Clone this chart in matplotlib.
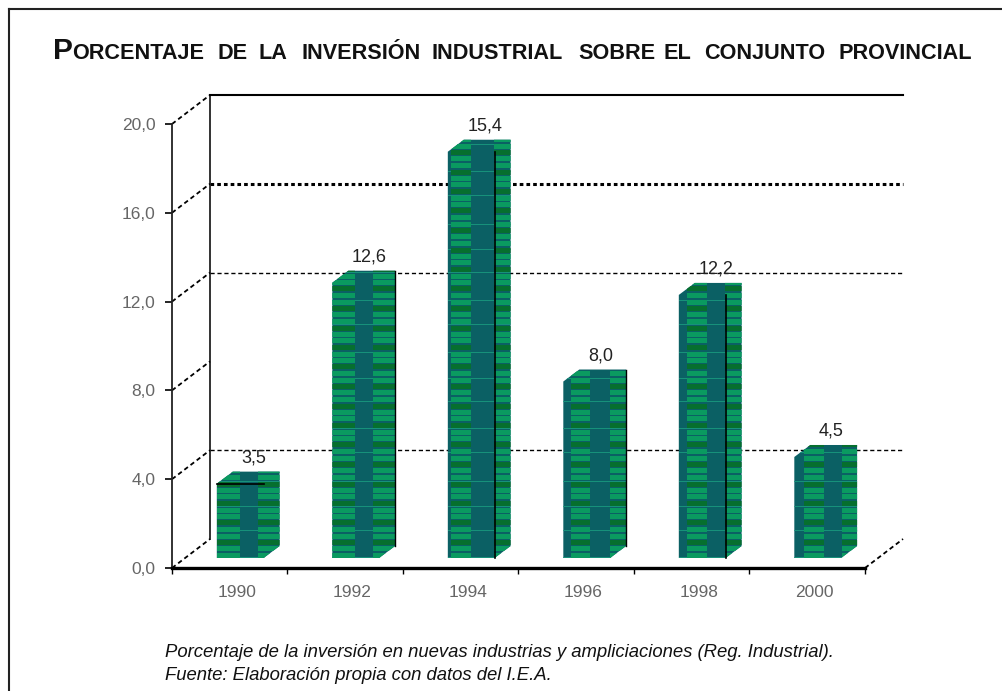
import numpy as np
import matplotlib
matplotlib.use("Agg")
import matplotlib.pyplot as plt
from matplotlib.patches import Polygon, Rectangle
from matplotlib.transforms import Affine2D

W, H = 1003, 691

# bar heights read against the axis, labels as printed above the bars
years = ["1990", "1992", "1994", "1996", "1998", "2000"]
values = [3.35, 12.4, 18.3, 7.95, 11.85, 4.55]
bar_labels = ["3,5", "12,6", "15,4", "8,0", "12,2", "4,5"]
y_ticks = [0, 4, 8, 12, 16, 20]
y_labels = ["0,0", "4,0", "8,0", "12,0", "16,0", "20,0"]

TITLE_WORDS = ["DE", "LA", "INVERSIÓN", "INDUSTRIAL", "SOBRE", "EL", "CONJUNTO", "PROVINCIAL"]
TITLE_X = [218, 258, 302, 432, 578, 664, 704, 839]
NOTE_1 = "Porcentaje de la inversión en nuevas industrias y ampliciaciones (Reg. Industrial)."
NOTE_2 = "Fuente: Elaboración propia con datos del I.E.A."

TEAL = "#0b6064"
GREEN = "#0a9a60"
DARK = "#066f2e"
LINE = "#17917a"

plt.rcParams["font.family"] = ["Liberation Sans", "DejaVu Sans"]

fig = plt.figure(figsize=(W / 100, H / 100), dpi=100)


def px(x, y):
    return x / W, 1 - y / H


# page frame, open at right and bottom
fig.add_artist(plt.Line2D([9 / W, 9 / W], [0, 1 - 9 / H], color="#222222", lw=1.5))
fig.add_artist(plt.Line2D([9 / W, 1], [1 - 9 / H, 1 - 9 / H], color="#222222", lw=1.5))

# title
fig.text(*px(53, 59), "P", fontsize=21.5, fontweight="bold", color="#111111")
fig.text(*px(72, 59), "ORCENTAJE", fontsize=15.6, fontweight="bold", color="#111111")
for word, x in zip(TITLE_WORDS, TITLE_X):
    fig.text(*px(x, 59), word, fontsize=15.6, fontweight="bold", color="#111111")

ax = fig.add_axes([172 / W, 1 - 568 / H, 693 / W, 444 / H])
ax.set_xlim(0, 6)
ax.set_ylim(0, 20)
ax.patch.set_alpha(0)
for side in ["top", "right"]:
    ax.spines[side].set_visible(False)
ax.spines["left"].set_linewidth(1.3)
ax.spines["left"].set_color("#222222")
ax.spines["bottom"].set_linewidth(2.4)
ax.spines["bottom"].set_color("black")

ax.set_yticks(y_ticks, y_labels)
ax.tick_params(axis="y", length=5, width=1.2, pad=7, labelsize=12.5, labelcolor="#666666")
ax.set_xticks(np.arange(0, 7))
ax.set_xticklabels([])
ax.set_xticks(np.arange(6) + 0.56, years, minor=True)
ax.tick_params(axis="x", which="major", length=4, width=1.0)
ax.tick_params(axis="x", which="minor", length=0, pad=12, labelsize=12.5, labelcolor="#666666")

# back wall is the front plane shifted by the depth
DX, DY = 38, 29
back = ax.transData + Affine2D().translate(DX, DY)

ax.plot([0, 0], [0, 20], color="#222222", lw=1.3, transform=back, clip_on=False)
ax.plot([0, 6], [20, 20], color="black", lw=1.5, transform=back, clip_on=False)
for v, style, lw in [(4, (0, (3, 2)), 1.0), (12, (0, (3, 2)), 1.0), (16, (0, (1.2, 1.0)), 2.2)]:
    ax.plot([0, 6], [v, v], color="black", lw=lw, ls=style, transform=back, clip_on=False, zorder=1)

# depth lines from each tick to the back wall
for v in y_ticks:
    p0 = ax.transData.transform((0, v))
    p1 = back.transform((0, v))
    ax.plot([p0[0], p1[0]], [p0[1], p1[1]], color="black", lw=1.3, ls=(0, (2.5, 1.8)),
            transform=None, clip_on=False)
p0 = ax.transData.transform((6, 0))
p1 = back.transform((6, 0))
ax.plot([p0[0], p1[0]], [p0[1], p1[1]], color="black", lw=1.3, ls=(0, (2.5, 1.8)),
        transform=None, clip_on=False)

# bars, faked 3d: a hexagon outline filled with horizontal stripes
BAR_LEFT = 0.388
BAR_W = 0.405
BAR_UP = 10
SIDE_DX, SIDE_DY = 16, 12
STRIPE = 6.5
# (start, end) of the green columns, px from the bar's left edge
columns = [
    [(0, 23), (41, 64)],
    [(0, 23), (41, 64)],
    [(3, 23), (46, 64)],
    [(8, 27), (47, 64)],
    [(8, 28), (46, 64)],
    [(10, 30), (48, 64)],
]
teal_lines = [4.2, 3.6, 3.9, 4.4, 3.7]
black_edge = [False, False, True, False, True, False]

for i, v in enumerate(values):
    x0, y0 = ax.transData.transform((i + BAR_LEFT, 0))
    x1, y1 = ax.transData.transform((i + BAR_LEFT + BAR_W, v))
    y0 += BAR_UP
    y1 = y0 + (y1 - ax.transData.transform((0, 0))[1])
    hexagon = [(x0, y0), (x0, y1), (x0 + SIDE_DX, y1 + SIDE_DY), (x1 + SIDE_DX, y1 + SIDE_DY),
               (x1 + SIDE_DX, y0 + SIDE_DY), (x1, y0)]
    shape = Polygon(hexagon, closed=True, transform=None, facecolor=TEAL, edgecolor="none", zorder=3)
    ax.add_patch(shape)
    for a, b in columns[i]:
        n = 0
        y = y0
        while y < y1 + SIDE_DY:
            c = DARK if n % 3 == 2 else GREEN
            r = Rectangle((x0 + a, round(y)), b - a, 5, transform=None, facecolor=c,
                          edgecolor="none", zorder=4, antialiased=False)
            ax.add_patch(r)
            r.set_clip_path(shape)
            y += STRIPE
            n += 1
    # thin lines across the teal column
    y = y0
    n = 0
    while y < y1 + SIDE_DY:
        r = Rectangle((x0, round(y)), 64, 1, transform=None, facecolor=LINE, edgecolor="none",
                      zorder=3.5, antialiased=False)
        ax.add_patch(r)
        r.set_clip_path(shape)
        y += 6.5 * teal_lines[n % len(teal_lines)]
        n += 1
    if i == 0:
        ax.plot([x0, x1], [y1, y1], color="black", lw=1.2, transform=None, zorder=5, clip_on=False)
    if black_edge[i]:
        ax.plot([x1, x1], [y0, y1], color="black", lw=1.2, transform=None, zorder=5, clip_on=False)
    if i in (1, 3):
        ax.plot([x1 + SIDE_DX] * 2, [y0 + SIDE_DY, y1 + SIDE_DY], color="black", lw=1.0,
                transform=None, zorder=5, clip_on=False)
    fig.text((x0 + 37) / W, (y1 + SIDE_DY + 14) / H, bar_labels[i], ha="center", va="center",
             fontsize=13, color="#222222", zorder=6)

fig.text(*px(165, 657), NOTE_1, fontsize=13.3, style="italic", color="#111111")
fig.text(*px(165, 680), NOTE_2, fontsize=13.3, style="italic", color="#111111")

fig.savefig("out.png", dpi=100)
